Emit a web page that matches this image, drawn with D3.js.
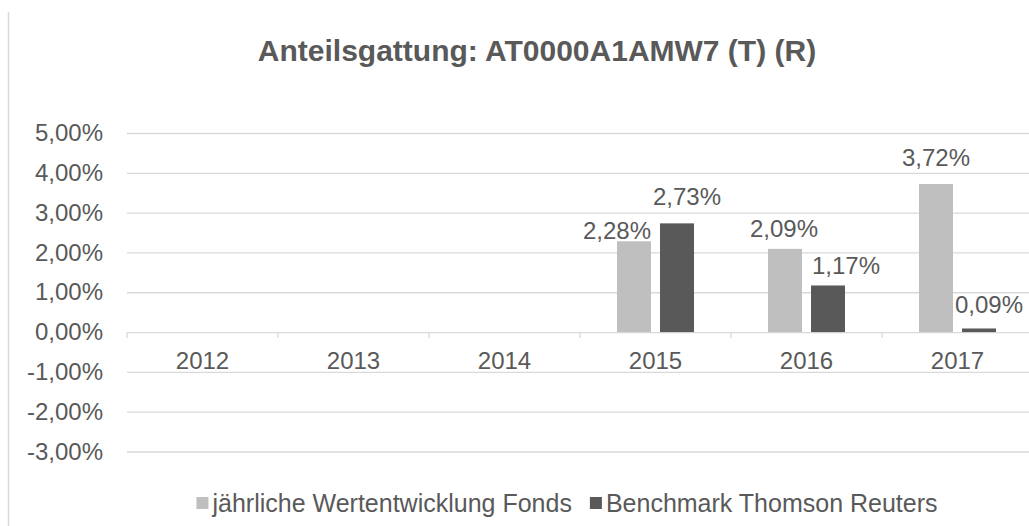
<!DOCTYPE html>
<html>
<head>
<meta charset="utf-8">
<script src="https://cdn.jsdelivr.net/npm/d3@7"></script>
<style>
  html, body { margin: 0; padding: 0; background: #fff; }
  svg { display: block; font-family: "Liberation Sans", Arial, sans-serif; }
</style>
</head>
<body>
<svg id="chart" width="1029" height="526"></svg>
<script>
// data
var years = ["2012", "2013", "2014", "2015", "2016", "2017"];
var seriesNames = ["jährliche Wertentwicklung Fonds", "Benchmark Thomson Reuters"];
var fonds     = [null, null, null, 2.28, 2.09, 3.72];
var benchmark = [null, null, null, 2.73, 1.17, 0.09];
var yTicks = [-3, -2, -1, 0, 1, 2, 3, 4, 5];
var titleText = "Anteilsgattung: AT0000A1AMW7 (T) (R)";

// label nudges (Excel moved some labels to avoid overlaps) [dx, dy]
var labelNudge = [
  [[0, -12], [0, -12]], [[0, -12], [0, -12]], [[0, -12], [0, -12]],
  [[-17, -2], [10, -18]],
  [[-1, -12], [18, -11]],
  [[0, -18], [10, -15]]
];

var colors = ["#bfbfbf", "#595959"];
var textCol = "#595959";
var gridCol = "#d9d9d9";

var W = 1029, H = 526;
// plot area (note: "top" is reserved on window, so use plot* names)
var plotL = 127, plotR = 1033, plotT = 133, plotB = 451.5;

var svg = d3.select("#chart");
var fmt = function(v) { return v.toFixed(2).replace(".", ",") + "%"; };

// chart-area border on the left
svg.append("line")
  .attr("x1", 8.5).attr("x2", 8.5).attr("y1", 12).attr("y2", H)
  .attr("stroke", gridCol).attr("stroke-width", 1.5);

svg.append("text")
  .attr("x", 537).attr("y", 61)
  .attr("text-anchor", "middle")
  .style("font-size", "30px").style("font-weight", "bold")
  .attr("fill", textCol)
  .text(titleText);

var y = d3.scaleLinear().domain([-3, 5]).range([plotB, plotT]);
var x0 = d3.scaleBand().domain(years).range([plotL, plotR]).padding(0);
var x1 = d3.scaleBand().domain([0, 1]).range([0, x0.bandwidth()])
  .paddingInner(0.21).paddingOuter(0.86);

// gridlines + y labels
svg.append("g")
  .attr("transform", "translate(" + plotL + ",0)")
  .call(d3.axisLeft(y).tickValues(yTicks).tickSize(-(plotR - plotL)).tickPadding(24).tickFormat(fmt))
  .call(function(g) { g.select(".domain").remove(); })
  .call(function(g) {
    g.selectAll("line").attr("stroke", gridCol).attr("stroke-width", 1.3);
    g.selectAll("text").style("font-size", "24px").attr("fill", textCol)
      .attr("font-family", "Liberation Sans, Arial, sans-serif");
  });

// category ticks on zero line
var bounds = years.map(function(d) { return x0(d); });
svg.append("g").selectAll("line").data(bounds).join("line")
  .attr("x1", function(d) { return d; }).attr("x2", function(d) { return d; })
  .attr("y1", y(0)).attr("y2", y(0) + 6)
  .attr("stroke", gridCol).attr("stroke-width", 1.3);

// category labels
svg.append("g").selectAll("text").data(years).join("text")
  .attr("x", function(d) { return x0(d) + x0.bandwidth() / 2; })
  .attr("y", 369)
  .attr("text-anchor", "middle")
  .style("font-size", "24px")
  .attr("fill", textCol)
  .text(function(d) { return d; });

// bars and labels
var rows = [];
years.forEach(function(yr, i) {
  [fonds[i], benchmark[i]].forEach(function(v, s) {
    if (v != null) rows.push({ yr: yr, i: i, s: s, v: v });
  });
});

svg.append("g").selectAll("rect").data(rows).join("rect")
  .attr("x", function(d) { return x0(d.yr) + x1(d.s); })
  .attr("y", function(d) { return y(Math.max(0, d.v)); })
  .attr("width", x1.bandwidth())
  .attr("height", function(d) { return Math.abs(y(d.v) - y(0)); })
  .attr("fill", function(d) { return colors[d.s]; });

svg.append("g").selectAll("text").data(rows).join("text")
  .attr("x", function(d) { return x0(d.yr) + x1(d.s) + x1.bandwidth() / 2 + labelNudge[d.i][d.s][0]; })
  .attr("y", function(d) { return y(d.v) + labelNudge[d.i][d.s][1]; })
  .attr("text-anchor", "middle")
  .style("font-size", "24px")
  .attr("fill", textCol)
  .text(function(d) { return fmt(d.v); });

// legend
var leg = svg.append("g");
var lx = 0;
seriesNames.forEach(function(name, s) {
  var g = leg.append("g").attr("transform", "translate(" + lx + ",0)");
  g.append("rect").attr("x", 0).attr("y", -6).attr("width", 12).attr("height", 12).attr("fill", colors[s]);
  var t = g.append("text").attr("x", 16).attr("y", 0).attr("dy", "0.35em")
    .style("font-size", "25px").attr("fill", textCol).text(name);
  lx += 16 + t.node().getComputedTextLength() + 18;
});
lx -= 18;
leg.attr("transform", "translate(" + (567 - lx / 2) + ",503)");
</script>
</body>
</html>
